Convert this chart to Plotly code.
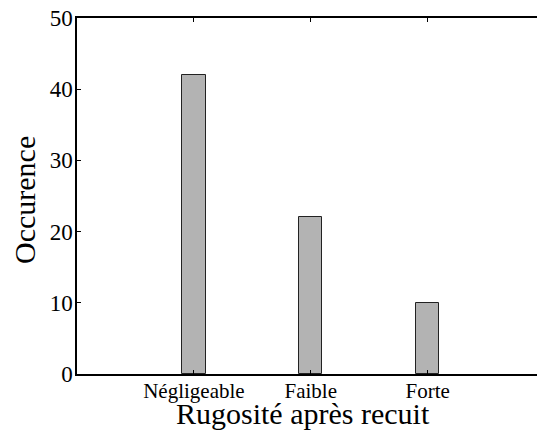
import plotly.graph_objects as go

# data
categories = ['Négligeable', 'Faible', 'Forte']
positions = [1, 2, 3]
occurrences = [42, 22, 10]
y_ticks = [0, 10, 20, 30, 40, 50]

FONT = 'Liberation Serif'

fig = go.Figure()

fig.add_trace(go.Bar(
    x=positions,
    y=occurrences,
    width=0.2,
    marker=dict(color='#b3b3b3', line=dict(color='#222222', width=1)),
    showlegend=False,
))

fig.update_layout(
    width=537,
    height=430,
    margin=dict(l=77, r=0, t=18, b=56),
    paper_bgcolor='white',
    plot_bgcolor='white',
    font=dict(family=FONT, color='black'),
    bargap=0,
)

fig.update_xaxes(
    range=[0, 3.936],
    tickmode='array',
    tickvals=positions,
    ticktext=categories,
    tickfont=dict(family=FONT, size=21),
    ticks='inside',
    ticklen=4,
    tickcolor='black',
    ticklabelstandoff=-3,
    showline=True,
    linecolor='black',
    linewidth=1.5,
    mirror='allticks',
    showgrid=False,
    zeroline=False,
    automargin=False,
)

fig.update_yaxes(
    range=[0, 50],
    tickmode='array',
    tickvals=y_ticks,
    tickfont=dict(family=FONT, size=23),
    ticks='inside',
    ticklen=4,
    tickcolor='black',
    ticklabelstandoff=-2,
    showline=True,
    linecolor='black',
    linewidth=1.5,
    mirror=False,
    showgrid=False,
    zeroline=False,
    automargin=False,
)

# axis titles placed as annotations to match the reference positions
fig.add_annotation(
    text='Rugosité après recuit', x=0.5, y=0, xref='paper', yref='paper',
    xanchor='center', yanchor='bottom', xshift=-4, yshift=-58,
    showarrow=False, font=dict(family=FONT, size=30),
)
fig.add_annotation(
    text='Occurence', x=0, y=0.5, xref='paper', yref='paper', textangle=-90,
    xanchor='center', yanchor='middle', xshift=-53, yshift=-4,
    showarrow=False, font=dict(family=FONT, size=30),
)

# drop the default page margin so the figure fills the window exactly
page_fix = (
    "document.documentElement.style.overflow='hidden';"
    "document.body.style.margin='0';"
    "document.body.style.overflow='hidden';"
)
fig.write_html('out.html', config={'displayModeBar': False}, post_script=page_fix)
